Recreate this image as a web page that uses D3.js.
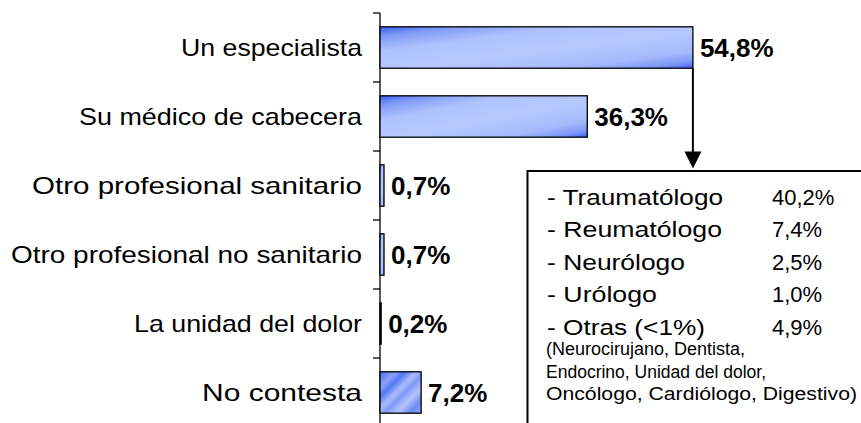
<!DOCTYPE html>
<html>
<head>
<meta charset="utf-8">
<script src="https://cdn.jsdelivr.net/npm/d3@7"></script>
<style>
html,body{margin:0;padding:0;background:#fff;}
svg{display:block;}
text{font-family:"Liberation Sans",Arial,sans-serif;fill:#000;}
</style>
</head>
<body>
<svg id="chart" width="861" height="423"></svg>
<script>
const categories = ["Un especialista","Su médico de cabecera","Otro profesional sanitario","Otro profesional no sanitario","La unidad del dolor","No contesta"];
const values = [54.8, 36.3, 0.7, 0.7, 0.2, 7.2];
const specialists = ["Traumatólogo","Reumatólogo","Neurólogo","Urólogo","Otras (<1%)"];
const specialistValues = [40.2, 7.4, 2.5, 1.0, 4.9];
const otherSpecialistsNote = ["(Neurocirujano, Dentista,","Endocrino, Unidad del dolor,","Oncólogo, Cardiólogo, Digestivo)"];

// rendered text widths of the reference (its font is wider than Liberation Sans)
const catLabelWidths = [181, 283, 330, 351, 228, 160];
const specLabelWidths = [176, 175, 138, 110, 158];
const noteWidths = [199, 220, 311];

const fmt = v => d3.format(".1f")(v).replace(".", ",") + "%";

const svg = d3.select("#chart");
const defs = svg.append("defs");
const g1 = defs.append("linearGradient").attr("id","barGrad")
  .attr("x1","0").attr("y1","0").attr("x2","1").attr("y2","1");
[[0,"#3a5cf0"],[0.12,"#7f9af6"],[0.3,"#aec2fd"],[0.55,"#b6c9ff"],[0.8,"#a4b9fc"],[0.92,"#7d97f6"],[1,"#3a5cf0"]]
  .forEach(([o,c])=>g1.append("stop").attr("offset",o).attr("stop-color",c));

const g2 = defs.append("linearGradient").attr("id","barGrad2")
  .attr("x1","0").attr("y1","0").attr("x2","1").attr("y2","1");
[[0,"#4a6cf2"],[0.2,"#8aa3f8"],[0.3,"#5677f3"],[0.45,"#a9bdfc"],[0.55,"#7e98f6"],[0.7,"#b3c6ff"],[0.85,"#6f8cf5"],[1,"#8ea6f8"]]
  .forEach(([o,c])=>g2.append("stop").attr("offset",o).attr("stop-color",c));

const x = d3.scaleLinear().domain([0, 60]).range([380, 380 + 60*5.71]);
const y = d3.scaleBand().domain(categories).range([13, 427]).paddingInner(0.4).paddingOuter(0.2);
const step = y.step();

// axis line & ticks at band boundaries
const bounds = categories.map(c => y(c) - step*0.2).concat([y(categories[categories.length-1]) - step*0.2 + step]);
svg.append("line").attr("x1",x(0)).attr("x2",x(0)).attr("y1",bounds[0]).attr("y2",bounds[bounds.length-1])
  .attr("stroke","#000").attr("stroke-width",1.3);
svg.selectAll(".tick").data(bounds).enter().append("line")
  .attr("x1",x(0)-7).attr("x2",x(0)).attr("y1",d=>d).attr("y2",d=>d)
  .attr("stroke","#000").attr("stroke-width",1.3);

// category labels
svg.selectAll(".cat").data(categories).enter().append("text")
  .attr("x",362).attr("y",d=>y(d)+y.bandwidth()/2)
  .attr("dy","0.35em").attr("text-anchor","end")
  .attr("textLength",(d,i)=>catLabelWidths[i]).attr("lengthAdjust","spacingAndGlyphs")
  .style("font-size","24px").text(d=>d);

// bars
svg.selectAll(".bar").data(values).enter().append("rect")
  .attr("x",x(0)).attr("y",(d,i)=>y(categories[i]))
  .attr("width",d=>x(d)-x(0)).attr("height",y.bandwidth())
  .attr("fill",(d,i)=> i===5 ? "url(#barGrad2)" : "url(#barGrad)")
  .attr("stroke","#000").attr("stroke-width",1.3);

// value labels
svg.selectAll(".val").data(values).enter().append("text")
  .attr("x",d=>x(d)+7).attr("y",(d,i)=>y(categories[i])+y.bandwidth()/2)
  .attr("dy","0.35em").style("font-size","26px").style("font-weight","bold")
  .text(d=>fmt(d));

// arrow
const ax = x(values[0]);
svg.append("line").attr("x1",ax).attr("x2",ax).attr("y1",y(categories[0])+y.bandwidth()).attr("y2",153)
  .attr("stroke","#000").attr("stroke-width",2);
svg.append("path").attr("d",`M${ax-8.5},151.5 L${ax+8.5},151.5 L${ax},168.5 Z`).attr("fill","#000");

// box
svg.append("rect").attr("x",527.5).attr("y",171).attr("width",340).attr("height",260)
  .attr("fill","#fff").attr("stroke","#000").attr("stroke-width",2);

const rows = svg.append("g");
specialists.forEach((s,i)=>{
  rows.append("text").attr("x",547).attr("y",204.5 + i*32.5).style("font-size","22.5px")
    .attr("textLength",specLabelWidths[i]).attr("lengthAdjust","spacingAndGlyphs").text("- " + s);
  rows.append("text").attr("x",772).attr("y",204.5 + i*32.5).style("font-size","22px").text(fmt(specialistValues[i]));
});
otherSpecialistsNote.forEach((s,i)=>{
  rows.append("text").attr("x",546).attr("y",355 + i*22.5).style("font-size","17.5px")
    .attr("textLength",noteWidths[i]).attr("lengthAdjust","spacingAndGlyphs").text(s);
});
</script>
</body>
</html>
